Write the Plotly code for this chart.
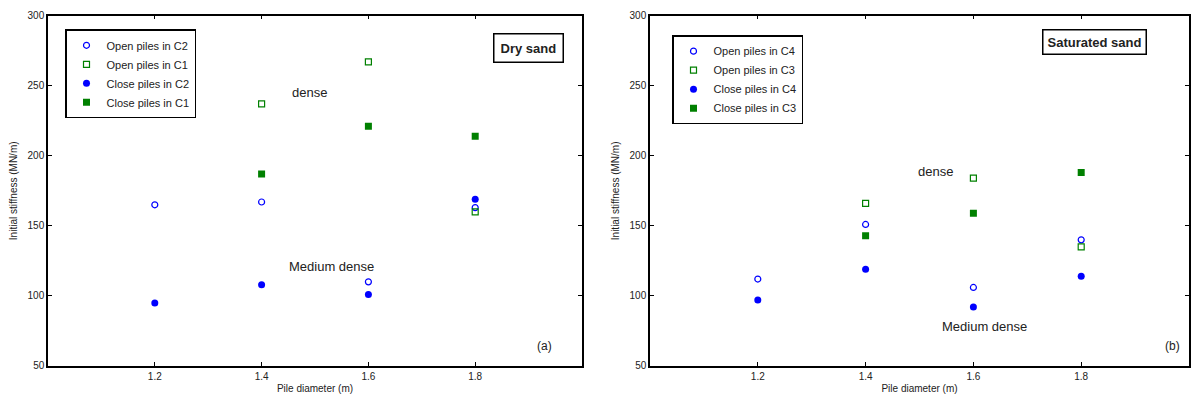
import plotly.graph_objects as go

diam = [1.2, 1.4, 1.6, 1.8]
diam3 = [1.4, 1.6, 1.8]

# Panel (a) dry sand
open_c2 = [165, 167, 110, 163]
open_c1 = [237, 267, 160]
close_c2 = [95, 108, 101, 169]
close_c1 = [187, 221, 214]

# Panel (b) saturated sand
open_c4 = [112, 151, 106, 140]
open_c3 = [166, 184, 135]
close_c4 = [97, 119, 92, 114]
close_c3 = [143, 159, 188]

xticks = [1.2, 1.4, 1.6, 1.8]
xticklabels = ["1.2", "1.4", "1.6", "1.8"]
yticks = [50, 100, 150, 200, 250, 300]

BLUE = "#0000ff"
GREEN = "#008000"
FONT = "Liberation Sans, Arial, sans-serif"

fig = go.Figure()

def add_panel(xa, ya, leg, o1, o2, c1, c2, names):
    xs = "x" if xa == 1 else "x2"
    ys = "y" if ya == 1 else "y2"
    fig.add_trace(go.Scatter(x=diam, y=o1, mode="markers", name=names[0], xaxis=xs, yaxis=ys, legend=leg,
                             marker=dict(symbol="circle-open", size=6, color=BLUE, line=dict(width=1.2, color=BLUE))))
    fig.add_trace(go.Scatter(x=diam3, y=o2, mode="markers", name=names[1], xaxis=xs, yaxis=ys, legend=leg,
                             marker=dict(symbol="square-open", size=6, color=GREEN, line=dict(width=1.2, color=GREEN))))
    fig.add_trace(go.Scatter(x=diam, y=c1, mode="markers", name=names[2], xaxis=xs, yaxis=ys, legend=leg,
                             marker=dict(symbol="circle", size=7, color=BLUE)))
    fig.add_trace(go.Scatter(x=diam3, y=c2, mode="markers", name=names[3], xaxis=xs, yaxis=ys, legend=leg,
                             marker=dict(symbol="square", size=7, color=GREEN)))

add_panel(1, 1, "legend", open_c2, open_c1, close_c2, close_c1,
          ["Open piles in C2", "Open piles in C1", "Close piles in C2", "Close piles in C1"])
add_panel(2, 2, "legend2", open_c4, open_c3, close_c4, close_c3,
          ["Open piles in C4", "Open piles in C3", "Close piles in C4", "Close piles in C3"])

ydom = [1 - 371 / 405, 1 - 11 / 405]
axis_common = dict(showgrid=False, zeroline=False, showline=True, linecolor="black", linewidth=1.5,
                   mirror="ticks", ticks="inside", ticklen=4, tickcolor="black",
                   tickfont=dict(size=10, family=FONT, color="#222"))

fig.update_layout(
    width=1192, height=405, margin=dict(l=0, r=0, t=0, b=0),
    paper_bgcolor="white", plot_bgcolor="white",
    font=dict(family=FONT, size=10, color="#222"),
    xaxis=dict(domain=[48 / 1192, 582 / 1192], range=[1.0, 2.0], tickvals=xticks, ticktext=xticklabels,
               title=dict(text="Pile diameter (m)", standoff=4, font=dict(size=10)), anchor="y", **axis_common),
    yaxis=dict(domain=ydom, range=[50, 300], tickvals=yticks,
               title=dict(text="Initial stiffness (MN/m)", standoff=8, font=dict(size=10)), anchor="x", **axis_common),
    xaxis2=dict(domain=[650 / 1192, 1189 / 1192], range=[1.0, 2.0], tickvals=xticks, ticktext=xticklabels,
                title=dict(text="Pile diameter (m)", standoff=4, font=dict(size=10)), anchor="y2", **axis_common),
    yaxis2=dict(domain=ydom, range=[50, 300], tickvals=yticks,
                title=dict(text="Initial stiffness (MN/m)", standoff=8, font=dict(size=10)), anchor="x2", **axis_common),
    legend=dict(x=65 / 1192, y=1 - 25 / 405, xanchor="left", yanchor="top", bgcolor="white",
                bordercolor="black", borderwidth=1.5, font=dict(size=11, family=FONT), tracegroupgap=0,
                itemwidth=30),
    legend2=dict(x=672 / 1192, y=1 - 31 / 405, xanchor="left", yanchor="top", bgcolor="white",
                 bordercolor="black", borderwidth=1.5, font=dict(size=11, family=FONT), tracegroupgap=0,
                 itemwidth=30),
)

ann = [
    dict(x=1.49, y=245, xref="x", yref="y", text="dense", showarrow=False, font=dict(size=13)),
    dict(x=1.53, y=121, xref="x", yref="y", text="Medium dense", showarrow=False, font=dict(size=13)),
    dict(x=1.93, y=64, xref="x", yref="y", text="(a)", showarrow=False, font=dict(size=12)),
    dict(x=1.90, y=277, xref="x", yref="y", text="<b>Dry sand</b>", showarrow=False, font=dict(size=13),
         bordercolor="black", borderwidth=1.5, borderpad=6, bgcolor="white"),
    dict(x=1.53, y=189, xref="x2", yref="y2", text="dense", showarrow=False, font=dict(size=13)),
    dict(x=1.62, y=78, xref="x2", yref="y2", text="Medium dense", showarrow=False, font=dict(size=13)),
    dict(x=1.97, y=64, xref="x2", yref="y2", text="(b)", showarrow=False, font=dict(size=12)),
    dict(x=1.825, y=281, xref="x2", yref="y2", text="<b>Saturated sand</b>", showarrow=False, font=dict(size=13),
         bordercolor="black", borderwidth=1.5, borderpad=4, bgcolor="white"),
]
fig.update_layout(annotations=ann)

fig.write_html("out.html")
